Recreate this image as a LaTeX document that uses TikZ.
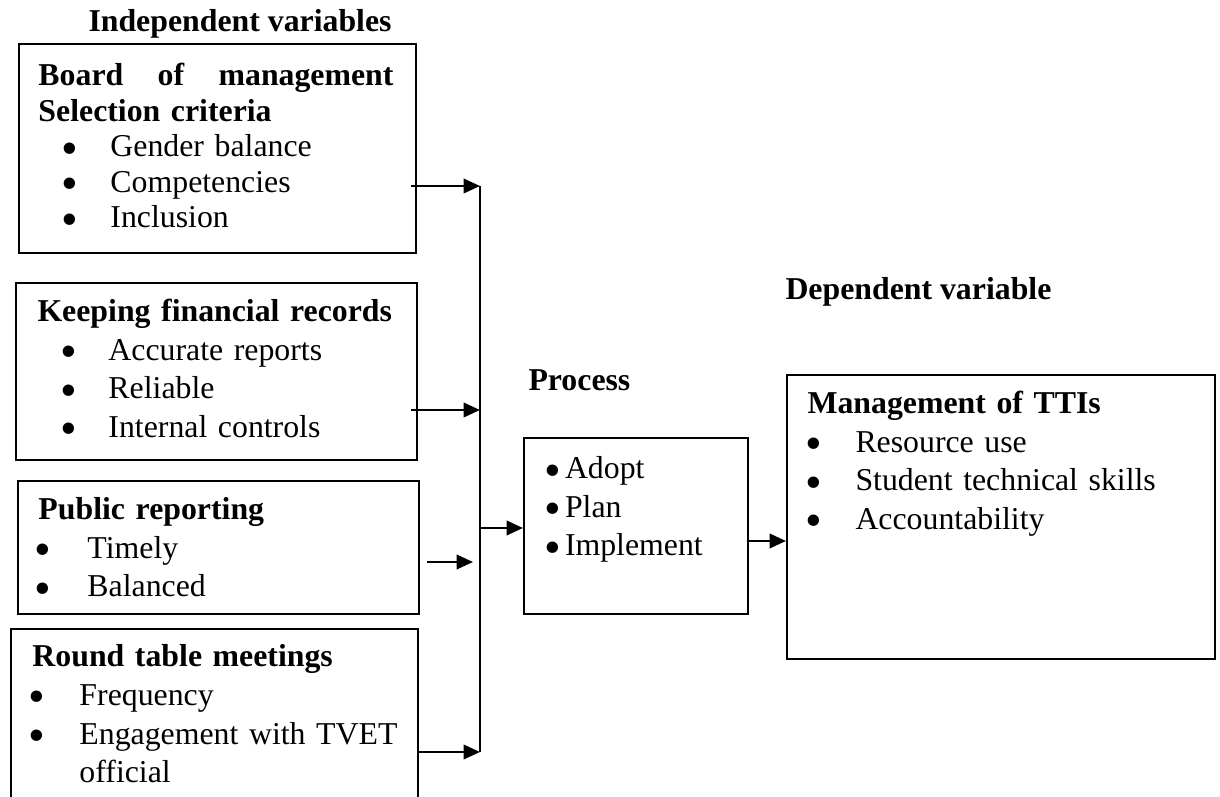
\documentclass[tikz,border=0pt]{standalone}
\usepackage{fontspec}
\usepackage{graphicx}
\setmainfont{Liberation Serif}
\usetikzlibrary{arrows.meta,calc,positioning}

\newlength\pxu
\setlength\pxu{0.4pt}
% bullet line: indent, bullet width, text
\newcommand{\bul}{\smash{\raisebox{-2.9pt}{\scalebox{1.5}{\textbullet}}}}
\newcommand{\itm}[3]{\hspace*{#1\pxu}\makebox[#2\pxu][l]{\bul}#3}

\begin{document}
\begin{tikzpicture}[x=0.4pt, y=-0.4pt,
    box/.style={draw, line width=0.8pt, inner sep=0pt, anchor=north west},
    txt/.style={inner sep=0pt, anchor=base west, align=left, text width=#1\pxu,
      font=\fontsize{12.72}{15.4}\selectfont},
    hd/.style={inner sep=0pt, anchor=base west, font=\fontsize{12.72}{15.4}\selectfont\bfseries},
    arr/.style={line width=1pt, -{Triangle[length=6.6pt,width=5.8pt]}},
    bus/.style={line width=0.8pt}]

  \useasboundingbox (0,0) rectangle (1220,797);

  % Titel der Spalten
  \node[hd] (indep) at (88,32) {Independent variables};
  \node[hd] (proclbl) at (528,391) {Process};
  \node[hd] (depend) at (785,300) {Dependent variable};

  % Unabhaengige Variablen
  \node[box, minimum width=397\pxu, minimum height=209\pxu] (bom) at (18,43) {};
  \node[txt=355, font=\fontsize{12.72}{14.2}\selectfont] (bomtxt) at ($(bom.north west)+(20,43)$)
    {\textbf{Board\hfill of\hfill management}\\
     \textbf{Selection criteria}\\
     \itm{23}{49}{Gender balance}\\
     \itm{23}{49}{Competencies}\\
     \itm{23}{49}{Inclusion}};

  \node[box, minimum width=401\pxu, minimum height=177\pxu] (kfr) at (15,282) {};
  \node[txt=370] (kfrtxt) at ($(kfr.north west)+(22,40)$)
    {\textbf{Keeping financial records}\\
     \itm{23}{48}{Accurate reports}\\
     \itm{23}{48}{Reliable}\\
     \itm{23}{48}{Internal controls}};

  \node[box, minimum width=401\pxu, minimum height=133\pxu] (pubrep) at (17,480) {};
  \node[txt=370] (pubreptxt) at ($(pubrep.north west)+(21,40)$)
    {\textbf{Public reporting}\\
     \itm{-3.5}{52.5}{Timely}\\
     \itm{-3.5}{52.5}{Balanced}};

  \node[box, minimum width=407\pxu, minimum height=190\pxu] (rtm) at (10,628) {};
  \node[txt=384] (rtmtxt) at ($(rtm.north west)+(22,39)$)
    {\textbf{Round table meetings}\\
     \itm{-3.5}{50.5}{Frequency}\\
     \itm{-3.5}{50.5}{Engagement with TVET}\\
     \hspace*{47\pxu}official};

  % Prozess
  \node[box, minimum width=224\pxu, minimum height=176\pxu] (proc) at (523,437) {};
  \node[txt=200] (proctxt) at ($(proc.north west)+(20.5,42)$)
    {\itm{0}{21}{Adopt}\\
     \itm{0}{21}{Plan}\\
     \itm{0}{21}{Implement}};

  % Abhaengige Variable
  \node[box, minimum width=428\pxu, minimum height=284\pxu] (mgmt) at (786,374) {};
  \node[txt=400] (mgmttxt) at ($(mgmt.north west)+(21,40)$)
    {\textbf{Management of TTIs}\\
     \itm{-2.5}{50.5}{Resource use}\\
     \itm{-2.5}{50.5}{Student technical skills}\\
     \itm{-2.5}{50.5}{Accountability}};

  % Sammelleitung
  \coordinate (busA) at (480,186);
  \coordinate (busB) at (480,410);
  \coordinate (busC) at (473,562);
  \coordinate (busD) at (480,752);
  \coordinate (busP) at (481,528);
  \coordinate (link) at (766,541);

  \draw[bus] (busA) -- (busD);
  \draw[arr] ($(bom.east |- busA)+(-6,0)$) -- (busA);
  \draw[arr] ($(kfr.east |- busB)+(-7,0)$) -- (busB);
  \draw[arr] ($(pubrep.east |- busC)+(7,0)$) -- (busC);
  \draw[arr] (rtm.east |- busD) -- (busD);
  \draw[arr] (busP) -- (proc.west |- busP);
  \draw[arr] (proc.east |- link) -- (mgmt.west |- link);

\end{tikzpicture}
\end{document}
